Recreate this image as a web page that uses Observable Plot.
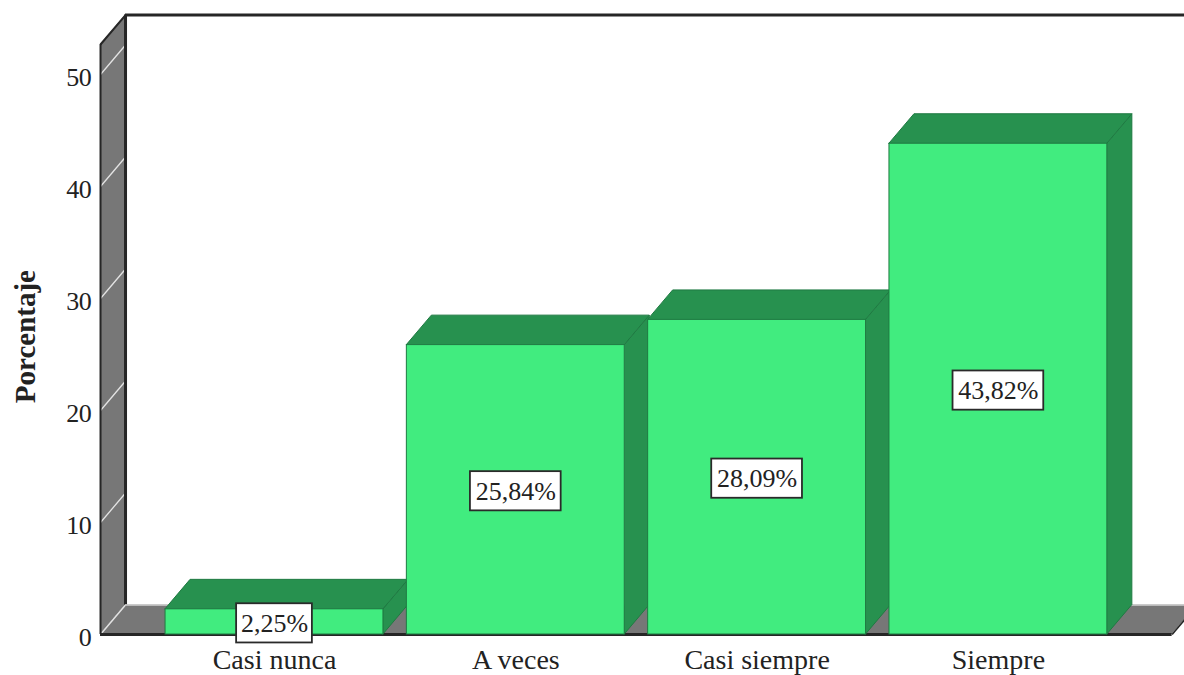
<!DOCTYPE html>
<html>
<head>
<meta charset="utf-8">
<script src="https://cdn.jsdelivr.net/npm/d3@7"></script>
<script src="https://cdn.jsdelivr.net/npm/@observablehq/plot@0.6"></script>
<style>
  html, body { margin: 0; padding: 0; background: #fff; overflow: hidden; }
  svg { display: block; }
  .tick-label text { letter-spacing: -0.6px; }
</style>
</head>
<body>
<div id="chart"></div>
<script>
// Percentage of answers per frequency category
const categories = ["Casi nunca", "A veces", "Casi siempre", "Siempre"];
const percentages = [2.25, 25.84, 28.09, 43.82];
const valueLabels = ["2,25%", "25,84%", "28,09%", "43,82%"];
const yTicks = [0, 10, 20, 30, 40, 50];

// Extents of the 3D box, in scale units
const halfBar = 0.4515;      // half a bar's width, category slots
const depthX = 0.1036;       // receding depth along x
const depthY = 2.63;         // receding depth along y
const wallX = -0.721;        // position of the wall's front edge
const floorEndX = 3.72;      // right end of the floor's front edge
const wallTop = 52.68;       // height of the wall's front edge

const bars = categories.map((c, i) => ({c, i, v: percentages[i], label: valueLabels[i]}));

// Parallelogram rows for the areas: each bar contributes two rows
const sideRows = bars.flatMap(b => [
  {i: b.i, x: b.i + halfBar, y1: 0, y2: b.v},
  {i: b.i, x: b.i + halfBar + depthX, y1: depthY, y2: b.v + depthY}
]);
const topRows = bars.flatMap(b => [
  {i: b.i, y: b.v, x1: b.i - halfBar, x2: b.i + halfBar},
  {i: b.i, y: b.v + depthY, x1: b.i - halfBar + depthX, x2: b.i + halfBar + depthX}
]);
const wallRows = [
  {x: wallX, y1: 0, y2: wallTop},
  {x: wallX + depthX, y1: depthY, y2: wallTop + depthY}
];
const floorRows = [
  {y: 0, x1: wallX, x2: floorEndX},
  {y: depthY, x1: wallX + depthX, x2: floorEndX + depthX}
];

const wallFill = "#777777";
const lineDark = "#262626";
const frontFill = "#41ec7f";
const sideFill = "#27914f";
const edgeStroke = "#1f7a42";
const textColor = "#222222";
const serif = "'Liberation Serif', serif";

// Value labels sit a little below the bar's midpoint
const labelY = d => d.v / 2 - 0.13;
const labelHalfWidth = d => (d.label.length === 5 ? 0.157 : 0.188);

const chart = Plot.plot({
  width: 1184,
  height: 675,
  margin: 0,
  style: {background: "#fff", fontFamily: serif, color: textColor},
  x: {type: "linear", domain: [-274 / 241.3, (1184 - 274) / 241.3], range: [0, 1184], axis: null},
  y: {type: "linear", domain: [-41 / 11.2, 634 / 11.2], range: [675, 0], axis: null},
  marks: [
    // Wall and floor
    Plot.areaY(wallRows, {x: "x", y1: "y1", y2: "y2", fill: wallFill}),
    Plot.areaX(floorRows, {y: "y", x1: "x1", x2: "x2", fill: wallFill, clip: true}),
    // Grid lines climbing the wall
    Plot.link(yTicks, {x1: wallX, x2: wallX + depthX, y1: d => d, y2: d => d + depthY, stroke: "#e4e4e4", strokeWidth: 1.3}),
    // Box outline
    Plot.ruleX([wallX], {y1: 0, y2: wallTop, stroke: lineDark, strokeWidth: 2}),
    Plot.ruleX([wallX + depthX], {y1: depthY, y2: wallTop + depthY, stroke: lineDark, strokeWidth: 3}),
    Plot.link([0], {x1: wallX, x2: wallX + depthX, y1: wallTop, y2: wallTop + depthY, stroke: lineDark, strokeWidth: 2}),
    Plot.ruleY([wallTop + depthY], {x1: wallX + depthX, x2: 5, stroke: lineDark, strokeWidth: 3, clip: true}),
    Plot.ruleY([depthY], {x1: wallX + depthX, x2: 5, stroke: "#d0d0d0", strokeWidth: 1.5, clip: true}),
    Plot.link([0], {x1: floorEndX, x2: floorEndX + depthX, y1: 0, y2: depthY, stroke: lineDark, strokeWidth: 1.5, clip: true}),
    Plot.ruleY([0], {x1: wallX, x2: floorEndX, stroke: lineDark, strokeWidth: 3}),
    // Bars: sides and tops first, then the front faces over them
    Plot.areaY(sideRows, {x: "x", y1: "y1", y2: "y2", z: "i", fill: sideFill, stroke: edgeStroke, strokeWidth: 1}),
    Plot.areaX(topRows, {y: "y", x1: "x1", x2: "x2", z: "i", fill: sideFill, stroke: edgeStroke, strokeWidth: 1}),
    Plot.rect(bars, {x1: d => d.i - halfBar, x2: d => d.i + halfBar, y1: 0, y2: "v", fill: frontFill, stroke: edgeStroke, strokeWidth: 1}),
    // Value labels in white boxes at the middle of each bar
    Plot.rect(bars, {
      x1: d => d.i - labelHalfWidth(d),
      x2: d => d.i + labelHalfWidth(d),
      y1: d => labelY(d) - 1.75,
      y2: d => labelY(d) + 1.75,
      fill: "#fff", stroke: "#2a2a2a", strokeWidth: 1.8
    }),
    Plot.text(bars, {x: "i", y: labelY, text: "label", fontSize: 26, fill: textColor}),
    // Axis text; tick numbers hang slightly below their grid lines
    Plot.text(yTicks, {x: -0.76, y: d => d - 0.27, text: d => String(d), textAnchor: "end", fontSize: 26, fill: textColor, className: "tick-label"}),
    Plot.text(bars, {x: "i", y: -2.32, text: "c", fontSize: 28, fill: textColor}),
    Plot.text(["Porcentaje"], {x: -1.032, y: 26.6, text: d => d, rotate: -90, fontSize: 29, fontWeight: "bold", fill: textColor})
  ]
});
document.getElementById("chart").append(chart);
</script>
</body>
</html>
